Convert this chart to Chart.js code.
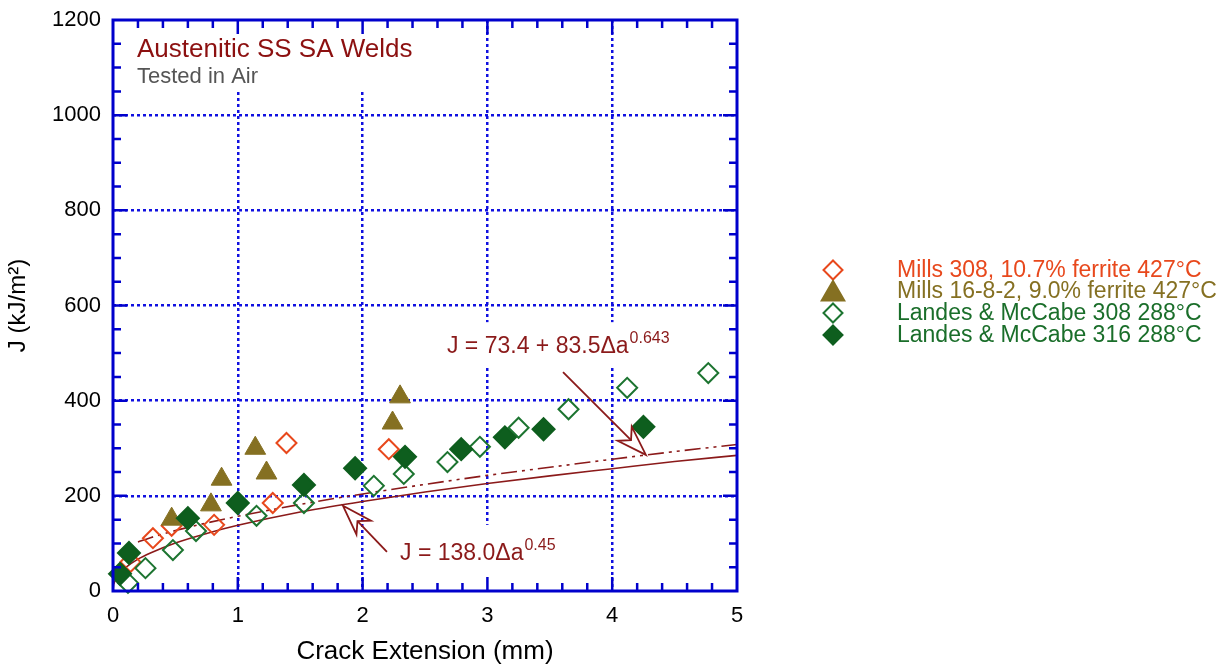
<!DOCTYPE html>
<html>
<head>
<meta charset="utf-8">
<script src="https://cdn.jsdelivr.net/npm/chart.js@4.4.1/dist/chart.umd.min.js"></script>
<style>
    html, body { margin: 0; padding: 0; background: #fff; }
    #wrap { width: 1225px; height: 669px; }
</style>
</head>
<body>
<div id="wrap"><canvas id="chart" width="1225" height="669"></canvas></div>
<script>
// 数据 (mm, kJ/m2)
const mills308X = [0.14, 0.32, 0.47, 0.81, 1.28, 1.39, 2.21];
const mills308J = [61, 111, 137, 139, 185, 311, 298];

const mills1682X = [0.47, 0.785, 0.87, 1.14, 1.23, 2.24, 2.30];
const mills1682J = [151, 181, 235, 300, 248, 353, 408];

const landes308X = [0.12, 0.26, 0.48, 0.665, 1.15, 1.53, 2.09, 2.33, 2.68, 2.94, 3.25, 3.65, 4.12, 4.77];
const landes308J = [17, 48, 86, 126, 158, 185, 221, 246, 271, 303, 343, 382, 427, 458];

const landes316X = [0.056, 0.128, 0.6, 1.0, 1.53, 1.94, 2.34, 2.79, 3.14, 3.45, 4.25];
const landes316J = [36, 80, 153, 185, 223, 258, 282, 298, 323, 340, 345];

// 拟合曲线
const fitPowerX = [0, 0.005, 0.01, 0.02, 0.05, 0.1, 0.2, 0.3, 0.5, 0.75, 1, 1.5, 2, 2.5, 3, 3.5, 4, 4.5, 5];
const fitPowerJ = [0, 13, 17, 24, 36, 49, 67, 80, 101, 121, 138, 166, 188, 208, 226, 242, 257, 272, 285];

const fitOffsetX = [0.2, 0.3, 0.5, 0.75, 1, 1.5, 2, 2.5, 3, 3.5, 4, 4.5, 5];
const fitOffsetJ = [103, 112, 127, 143, 157, 182, 204, 224, 243, 260, 277, 293, 308];

// 刻度
const xTickValues = [0, 1, 2, 3, 4, 5];
const xTickLabels = ['0', '1', '2', '3', '4', '5'];
const yTickValues = [0, 200, 400, 600, 800, 1000, 1200];
const yTickLabels = ['0', '200', '400', '600', '800', '1000', '1200'];

const legendLabels = [
    'Mills 308, 10.7% ferrite 427°C',
    'Mills 16-8-2, 9.0% ferrite 427°C',
    'Landes & McCabe 308 288°C',
    'Landes & McCabe 316 288°C'
];

// 颜色
const COLORS = {
    mills308: '#E8481C',
    mills1682: '#857022',
    landes308: '#1C7430',
    landes316: '#0E5E1E',
    fit: '#8B1A1A',
    axis: '#0000CC',
    grid: '#1010E0',
    text: '#000000',
    gray: '#555555'
};

const FONT = "'Liberation Sans', Arial, sans-serif";

function pts(xs, ys) {
    return xs.map((x, i) => ({ x: x, y: ys[i] }));
}

function drawMarker(ctx, style, x, y, r, stroke, fill) {
    ctx.beginPath();
    if (style === 'triangle') {
        ctx.moveTo(x, y - r);
        ctx.lineTo(x + r * 0.866, y + r * 0.5);
        ctx.lineTo(x - r * 0.866, y + r * 0.5);
    } else {
        ctx.moveTo(x, y - r);
        ctx.lineTo(x + r, y);
        ctx.lineTo(x, y + r);
        ctx.lineTo(x - r, y);
    }
    ctx.closePath();
    if (fill) {
        ctx.fillStyle = fill;
        ctx.fill();
    }
    ctx.strokeStyle = stroke;
    ctx.lineWidth = 2;
    ctx.stroke();
}

// 空心箭头
function drawArrow(ctx, x1, y1, x2, y2) {
    const ang = Math.atan2(y2 - y1, x2 - x1);
    const len = 30, half = 10;
    const cos = Math.cos(ang), sin = Math.sin(ang);
    const bx = x2 - len * cos, by = y2 - len * sin;
    const nx = x2 - len * 0.7 * cos, ny = y2 - len * 0.7 * sin;
    ctx.beginPath();
    ctx.moveTo(x1, y1);
    ctx.lineTo(nx, ny);
    ctx.stroke();
    ctx.beginPath();
    ctx.moveTo(x2, y2);
    ctx.lineTo(bx - sin * half, by + cos * half);
    ctx.lineTo(nx, ny);
    ctx.lineTo(bx + sin * half, by - cos * half);
    ctx.closePath();
    ctx.stroke();
}

// 带上标的文字
function drawSupText(ctx, x, y, main, sup, size, supSize) {
    ctx.font = size + 'px ' + FONT;
    ctx.textBaseline = 'alphabetic';
    ctx.textAlign = 'left';
    ctx.fillText(main, x, y);
    const w = ctx.measureText(main).width;
    ctx.font = supSize + 'px ' + FONT;
    ctx.fillText(sup, x + w + 1, y - size * 0.42);
}

const decorPlugin = {
    id: 'decor',
    // 文字背后的白底（挡住网格线）
    beforeDatasetsDraw(chart) {
        const { ctx, scales: { x, y } } = chart;
        const boxes = [
            [0.1, 2.45, 1200, 1049],
            [2.62, 4.70, 565, 473],
            [2.26, 3.82, 139, 0]
        ];
        ctx.save();
        ctx.fillStyle = '#ffffff';
        boxes.forEach(b => {
            const l = x.getPixelForValue(b[0]), r = x.getPixelForValue(b[1]);
            const t = y.getPixelForValue(b[2]), btm = y.getPixelForValue(b[3]);
            ctx.fillRect(l, t, r - l, btm - t);
        });
        ctx.restore();
    },
    afterDraw(chart) {
        const { ctx, chartArea: a, scales: { x, y } } = chart;
        ctx.save();

        // 坐标框和刻度
        ctx.strokeStyle = COLORS.axis;
        ctx.lineWidth = 3;
        ctx.strokeRect(a.left, a.top, a.right - a.left, a.bottom - a.top);
        ctx.lineWidth = 2.5;
        ctx.beginPath();
        for (let i = 1; i < 25; i++) {
            const px = x.getPixelForValue(i * 0.2);
            const len = i % 5 === 0 ? 14 : 8;
            ctx.moveTo(px, a.bottom);
            ctx.lineTo(px, a.bottom - len);
            ctx.moveTo(px, a.top);
            ctx.lineTo(px, a.top + len);
        }
        for (let i = 1; i < 24; i++) {
            const py = y.getPixelForValue(i * 50);
            const len = i % 4 === 0 ? 14 : 8;
            ctx.moveTo(a.left, py);
            ctx.lineTo(a.left + len, py);
            ctx.moveTo(a.right, py);
            ctx.lineTo(a.right - len, py);
        }
        ctx.stroke();

        // 标题
        ctx.fillStyle = '#8C1010';
        ctx.font = '26px ' + FONT;
        ctx.textBaseline = 'alphabetic';
        ctx.fillText('Austenitic SS SA Welds', x.getPixelForValue(0.192), y.getPixelForValue(1122));
        ctx.fillStyle = COLORS.gray;
        ctx.font = '22px ' + FONT;
        ctx.fillText('Tested in Air', x.getPixelForValue(0.192), y.getPixelForValue(1068));

        // 公式和箭头
        ctx.fillStyle = COLORS.fit;
        drawSupText(ctx, x.getPixelForValue(2.676), y.getPixelForValue(500), 'J = 73.4 + 83.5\u0394a', '0.643', 23, 16);
        drawSupText(ctx, x.getPixelForValue(2.30), y.getPixelForValue(65), 'J = 138.0\u0394a', '0.45', 23, 16);
        ctx.strokeStyle = COLORS.fit;
        ctx.lineWidth = 1.8;
        drawArrow(ctx, x.getPixelForValue(3.606), y.getPixelForValue(460), x.getPixelForValue(4.27), y.getPixelForValue(286));
        drawArrow(ctx, x.getPixelForValue(2.195), y.getPixelForValue(82), x.getPixelForValue(1.843), y.getPixelForValue(179));

        // 图例
        const rows = [270, 291, 313, 335];
        const mk = [
            ['rectRot', COLORS.mills308, null],
            ['triangle', COLORS.mills1682, COLORS.mills1682],
            ['rectRot', COLORS.landes308, null],
            ['rectRot', COLORS.landes316, COLORS.landes316]
        ];
        const textColors = [COLORS.mills308, COLORS.mills1682, '#1A6E2A', '#1A6E2A'];
        rows.forEach((ry, i) => {
            const tri = mk[i][0] === 'triangle';
            drawMarker(ctx, mk[i][0], 833, ry + (tri ? 3 : 0), tri ? 13 : 9.5, mk[i][1], mk[i][2]);
            ctx.fillStyle = textColors[i];
            ctx.font = '23px ' + FONT;
            ctx.textBaseline = 'middle';
            ctx.fillText(legendLabels[i], 897, ry + 1);
        });

        ctx.restore();
    }
};

const gridColor = (edges) => (c) => (c.tick && edges.includes(c.tick.value)) ? 'rgba(0,0,0,0)' : COLORS.grid;

new Chart(document.getElementById('chart'), {
    type: 'scatter',
    data: {
        datasets: [
            {
                label: legendLabels[3],
                data: pts(landes316X, landes316J),
                pointStyle: 'rectRot',
                pointRadius: 11,
                borderWidth: 2,
                borderColor: COLORS.landes316,
                backgroundColor: COLORS.landes316,
                clip: false,
                order: 0
            },
            {
                label: legendLabels[2],
                data: pts(landes308X, landes308J),
                pointStyle: 'rectRot',
                pointRadius: 10,
                borderWidth: 2,
                borderColor: COLORS.landes308,
                backgroundColor: 'rgba(255,255,255,0)',
                clip: false,
                order: 1
            },
            {
                label: legendLabels[1],
                data: pts(mills1682X, mills1682J),
                pointStyle: 'triangle',
                pointRadius: 12,
                borderWidth: 1,
                borderColor: COLORS.mills1682,
                backgroundColor: COLORS.mills1682,
                clip: false,
                order: 2
            },
            {
                label: legendLabels[0],
                data: pts(mills308X, mills308J),
                pointStyle: 'rectRot',
                pointRadius: 10,
                borderWidth: 2,
                borderColor: COLORS.mills308,
                backgroundColor: 'rgba(255,255,255,0)',
                clip: false,
                order: 3
            },
            {
                label: 'J = 73.4 + 83.5Δa^0.643',
                data: pts(fitOffsetX, fitOffsetJ),
                showLine: true,
                pointRadius: 0,
                borderColor: COLORS.fit,
                borderWidth: 1.6,
                borderDash: [16, 5, 3, 5, 3, 5],
                cubicInterpolationMode: 'monotone',
                order: 4
            },
            {
                label: 'J = 138.0Δa^0.45',
                data: pts(fitPowerX, fitPowerJ),
                showLine: true,
                pointRadius: 0,
                borderColor: COLORS.fit,
                borderWidth: 1.6,
                cubicInterpolationMode: 'monotone',
                order: 5
            }
        ]
    },
    options: {
        responsive: false,
        animation: false,
        events: [],
        layout: { padding: { left: 0, right: 488, top: 20, bottom: 0 } },
        plugins: {
            legend: { display: false },
            tooltip: { enabled: false }
        },
        scales: {
            x: {
                type: 'linear',
                min: 0,
                max: 5,
                afterBuildTicks: s => { s.ticks = xTickValues.map(v => ({ value: v })); },
                afterFit: s => { s.height = 78; s.paddingLeft = 0; s.paddingRight = 0; },
                ticks: {
                    color: COLORS.text,
                    font: { family: FONT, size: 22 },
                    padding: 12,
                    maxRotation: 0,
                    callback: (v) => xTickLabels[xTickValues.indexOf(v)]
                },
                grid: { color: gridColor([0, 5]), lineWidth: 2.5, drawTicks: false },
                border: { display: false, dash: [3, 3] },
                title: {
                    display: true,
                    text: 'Crack Extension (mm)',
                    color: COLORS.text,
                    font: { family: FONT, size: 26 },
                    padding: { top: 0, bottom: 2 }
                }
            },
            y: {
                type: 'linear',
                min: 0,
                max: 1200,
                afterBuildTicks: s => { s.ticks = yTickValues.map(v => ({ value: v })); },
                afterFit: s => { s.width = 113; s.paddingTop = 0; s.paddingBottom = 0; },
                ticks: {
                    color: COLORS.text,
                    font: { family: FONT, size: 22 },
                    padding: 12,
                    callback: (v) => yTickLabels[yTickValues.indexOf(v)]
                },
                grid: { color: gridColor([0, 1200]), lineWidth: 2.5, drawTicks: false },
                border: { display: false, dash: [3, 3] },
                title: {
                    display: true,
                    text: 'J (kJ/m²)',
                    color: COLORS.text,
                    font: { family: FONT, size: 24 },
                    padding: { top: 4, bottom: 0 }
                }
            }
        }
    },
    plugins: [decorPlugin]
});
</script>
</body>
</html>
